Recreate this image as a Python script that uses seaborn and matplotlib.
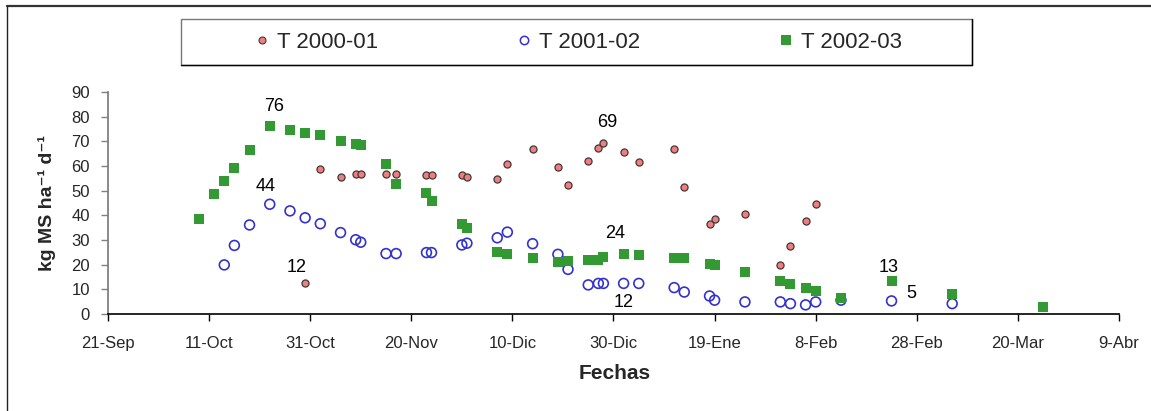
import pandas as pd
import seaborn as sns
from matplotlib import pyplot as plt
from matplotlib.lines import Line2D
from matplotlib.patches import Rectangle

# fechas como "MM-DD" (sep-dic en el primer anio, ene-abr en el segundo)
fechas_2000 = ["10-30", "11-02", "11-06", "11-09", "11-10", "11-15", "11-17", "11-23", "11-24", "11-30",
               "12-01", "12-07", "12-09", "12-14", "12-19", "12-21", "12-25", "12-27", "12-28", "01-01",
               "01-04", "01-11", "01-13", "01-18", "01-19", "01-25", "02-01", "02-03", "02-06", "02-08"]
tasa_2000 = [12.4, 58.6, 55.6, 56.9, 56.9, 56.9, 56.9, 56.2, 56.2, 56.2,
             55.5, 54.6, 60.9, 66.8, 59.7, 52.2, 62.0, 67.2, 69.4, 65.5,
             61.6, 66.8, 51.6, 36.6, 38.4, 40.7, 19.9, 27.6, 37.7, 44.7]

fechas_2001 = ["10-14", "10-16", "10-19", "10-23", "10-27", "10-30", "11-02", "11-06", "11-09", "11-10",
               "11-15", "11-17", "11-23", "11-24", "11-30", "12-01", "12-07", "12-09", "12-14", "12-19",
               "12-21", "12-25", "12-27", "12-28", "01-01", "01-04", "01-11", "01-13", "01-18", "01-19",
               "01-25", "02-01", "02-03", "02-06", "02-08", "02-13", "02-23", "03-07"]
tasa_2001 = [19.9, 27.8, 36.1, 44.5, 41.8, 39.0, 36.6, 33.0, 30.1, 29.1,
             24.5, 24.5, 24.9, 24.9, 28.0, 28.7, 30.9, 33.2, 28.5, 24.2,
             18.1, 11.8, 12.4, 12.4, 12.4, 12.4, 10.7, 8.9, 7.3, 5.6,
             4.9, 4.9, 4.2, 3.7, 4.9, 5.6, 5.3, 4.2]

fechas_2002 = ["10-09", "10-12", "10-14", "10-16", "10-19", "10-23", "10-27", "10-30", "11-02", "11-06",
               "11-09", "11-10", "11-15", "11-17", "11-23", "11-24", "11-30", "12-01", "12-07", "12-09",
               "12-14", "12-19", "12-21", "12-25", "12-27", "12-28", "01-01", "01-04", "01-11", "01-13",
               "01-18", "01-19", "01-25", "02-01", "02-03", "02-06", "02-08", "02-13", "02-23", "03-07",
               "03-25"]
tasa_2002 = [38.4, 48.5, 53.9, 59.1, 66.5, 76.3, 74.6, 73.5, 72.4, 70.1,
             69.0, 68.4, 60.9, 52.6, 49.2, 45.8, 36.6, 35.0, 25.1, 24.5,
             22.8, 21.1, 21.5, 21.9, 21.9, 23.2, 24.5, 23.9, 22.8, 22.8,
             20.4, 19.7, 17.0, 13.4, 12.3, 10.7, 9.3, 6.6, 13.4, 8.2,
             3.0]

series = ["T 2000-01", "T 2001-02", "T 2002-03"]
etiquetas_x = ["21-Sep", "11-Oct", "31-Oct", "20-Nov", "10-Dic", "30-Dic",
               "19-Ene", "8-Feb", "28-Feb", "20-Mar", "9-Abr"]

# etiquetas de valores: (serie, fecha, texto)
etiquetas = [("T 2002-03", "10-23", "76"), ("T 2001-02", "10-23", "44"),
             ("T 2000-01", "10-30", "12"), ("T 2000-01", "12-28", "69"),
             ("T 2002-03", "01-01", "24"), ("T 2001-02", "01-01", "12"),
             ("T 2002-03", "02-23", "13"), ("T 2001-02", "02-23", "5")]
desplaz = [(3, 14), (-3, 13), (-6, 11.5), (3, 14.5), (-6, 14.5), (0, -14), (-2, 10), (14, 5)]


def a_fecha(md):
    mes = int(md[:2])
    anio = 2001 if mes >= 9 else 2002
    return pd.Timestamp(f"{anio}-{md}")


df = pd.concat([
    pd.DataFrame({"fecha": [a_fecha(f) for f in fs], "tasa": ts, "serie": s})
    for fs, ts, s in zip([fechas_2000, fechas_2001, fechas_2002],
                         [tasa_2000, tasa_2001, tasa_2002], series)
])

sns.set_style("white")
plt.rcParams["font.family"] = ["Liberation Sans", "DejaVu Sans"]

fig = plt.figure(figsize=(11.51, 4.11), dpi=100)
ax = fig.add_axes([108 / 1151, 97 / 411, 1011 / 1151, 222 / 411])

rojo, azul, verde = "#f47c7c", "#3333cc", "#339933"
sns.scatterplot(data=df[df["serie"] == series[0]], x="fecha", y="tasa", ax=ax, marker="o",
                s=26, color=rojo, edgecolor="#3a3a3a", linewidth=0.9, legend=False, zorder=3)
sns.scatterplot(data=df[df["serie"] == series[1]], x="fecha", y="tasa", ax=ax, marker="o",
                s=50, facecolor="none", edgecolor=azul, linewidth=1.2, legend=False, zorder=3)
sns.scatterplot(data=df[df["serie"] == series[2]], x="fecha", y="tasa", ax=ax, marker="s",
                s=52, color=verde, edgecolor=verde, linewidth=0, legend=False, zorder=4)

for (serie, f, txt), (dx, dy) in zip(etiquetas, desplaz):
    fila = df[(df["serie"] == serie) & (df["fecha"] == a_fecha(f))].iloc[0]
    ax.annotate(txt, xy=(fila["fecha"], fila["tasa"]), xytext=(dx, dy), textcoords="offset points",
                ha="center", va="center", fontsize=13, color="black")

ticks = pd.date_range("2001-09-21", periods=len(etiquetas_x), freq="20D")
ax.set_xlim(ticks[0], ticks[-1])
ax.set_xticks(ticks)
ax.set_xticklabels(etiquetas_x, fontsize=12)
ax.set_ylim(0, 90)
ax.set_yticks(range(0, 91, 10))
ax.set_yticklabels([str(v) for v in range(0, 91, 10)], fontsize=12)
ax.set_xlabel("")
ax.set_ylabel("")

for lado in ["top", "right"]:
    ax.spines[lado].set_visible(False)
ax.spines["left"].set_color("#808080")
ax.spines["left"].set_linewidth(1.3)
ax.spines["bottom"].set_color("black")
ax.spines["bottom"].set_linewidth(1.2)
ax.tick_params(axis="y", length=5, width=1, color="#808080", pad=8, left=True)
ax.tick_params(axis="x", length=5, width=1, color="black", pad=10.5, bottom=True)

fig.text(47 / 1151, 1 - 203 / 411, "kg MS ha\u207b\u00b9 d\u207b\u00b9", rotation=90,
         ha="center", va="center", fontsize=14, fontweight="bold")
fig.text(615 / 1151, 1 - 373 / 411, "Fechas", ha="center", va="center", fontsize=15, fontweight="bold")

# marco exterior y caja de la leyenda
fig.add_artist(Line2D([7 / 1151, 1], [1 - 6.5 / 411] * 2, transform=fig.transFigure, color="#333333", lw=1.6))
fig.add_artist(Line2D([7 / 1151] * 2, [0, 1 - 6.5 / 411], transform=fig.transFigure, color="#222222", lw=1.0))
fig.add_artist(Rectangle((181 / 1151, 1 - 65 / 411), 791 / 1151, 46 / 411, transform=fig.transFigure,
                         facecolor="white", edgecolor="#777777", lw=1.0))
fig.add_artist(Line2D([181 / 1151, 972 / 1151], [1 - 65 / 411] * 2, transform=fig.transFigure, color="black", lw=1.0))
fig.add_artist(Line2D([972 / 1151] * 2, [1 - 65 / 411, 1 - 19 / 411], transform=fig.transFigure, color="black", lw=1.0))

handles = [
    Line2D([], [], linestyle="none", marker="o", markersize=5, markerfacecolor=rojo,
           markeredgecolor="#3a3a3a", markeredgewidth=0.8),
    Line2D([], [], linestyle="none", marker="o", markersize=6, markerfacecolor="none",
           markeredgecolor=azul, markeredgewidth=1.1),
    Line2D([], [], linestyle="none", marker="s", markersize=7, markerfacecolor=verde,
           markeredgecolor=verde, markeredgewidth=0),
]
fig.legend(handles, series, loc="center", bbox_to_anchor=(578 / 1151, 1 - 42 / 411), ncol=3,
           frameon=False, fontsize=16, handlelength=0.75, handletextpad=0.3, columnspacing=6.2)

plt.savefig("out.png", dpi=100)
